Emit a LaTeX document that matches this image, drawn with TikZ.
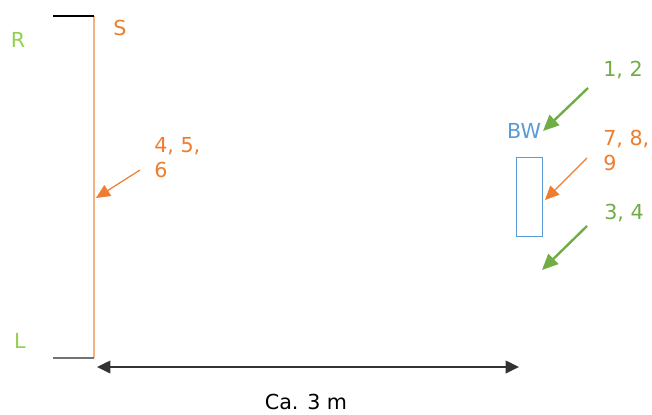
\documentclass[tikz,border=0pt]{standalone}
\usepackage{fontspec}
\setmainfont{DejaVu Sans}
\usetikzlibrary{arrows.meta,positioning}
\definecolor{SkOrange}{RGB}{237,125,49}
\definecolor{SkLightOrange}{RGB}{244,177,131}
\definecolor{SkGreen}{RGB}{112,173,71}
\definecolor{SkLime}{RGB}{146,208,80}
\definecolor{SkBlue}{RGB}{91,155,213}
\tikzset{
  sk/label/.style={font=\fontsize{15.5}{19}\selectfont, inner sep=0pt, align=left},
  sk/greenarrow/.style={-{Triangle[length=12pt,width=10.5pt]}, line width=1.8pt, draw=SkGreen, fill=SkGreen},
  sk/orangearrow/.style={-{Triangle[length=10.5pt,width=9.5pt]}, line width=0.9pt, draw=SkOrange, fill=SkOrange},
  sk/dimarrow/.style={{Triangle[length=10pt,width=9.5pt]}-{Triangle[length=10pt,width=9.5pt]}, line width=1.1pt, draw=black!80}
}
\begin{document}
\begin{tikzpicture}[x=0.75pt,y=-0.75pt]
  \useasboundingbox (0,0) rectangle (652,414);
  % wall with the speaker
  \coordinate (wallTop) at (94,16);
  \coordinate (wallBot) at (94,358);
  \coordinate (wallTopL) at (53,16);
  \coordinate (wallBotL) at (53,358);
  \draw[line width=0.9pt, SkLightOrange] (wallTop) -- (wallBot);
  \draw[line width=0.9pt, black] (wallTopL) -- (wallTop);
  \draw[line width=1pt, black!55] (wallBotL) -- (wallBot);
  \node[sk/label, text=SkLime] (right) at (18,40) {R};
  \node[sk/label, text=SkLime] (left) at (20,341) {L};
  \node[sk/label, text=SkOrange] (speaker) at (120,28) {S};
  % positions on the speaker side
  \node[sk/label, text=SkOrange, anchor=north west] (pos456) at (154,137) {4, 5,\\6};
  \coordinate (from456) at (140,170);
  \coordinate (to456) at (96,198);
  \draw[sk/orangearrow] (from456) -- (to456);
  % listening spot
  \node[sk/label, text=SkBlue] (bw) at (524,131) {BW};
  \node[draw=SkBlue, line width=0.7pt, minimum width=26*0.75pt, minimum height=79*0.75pt, inner sep=0pt] (seat) at (529,196.5) {};
  \node[sk/label, text=SkGreen] (pos12) at (623,70) {1, 2};
  \coordinate (from12) at (588,88);
  \coordinate (to12) at (543,131);
  \draw[sk/greenarrow] (from12) -- (to12);
  \node[sk/label, text=SkOrange, anchor=north west] (pos789) at (603,130) {7, 8,\\9};
  \coordinate (from789) at (587,158);
  \coordinate (to789) at (545,200);
  \draw[sk/orangearrow] (from789) -- (to789);
  \node[sk/label, text=SkGreen] (pos34) at (624,213) {3, 4};
  \coordinate (from34) at (587,226);
  \coordinate (to34) at (542,270);
  \draw[sk/greenarrow] (from34) -- (to34);
  % distance
  \coordinate (dimL) at (97,367);
  \coordinate (dimR) at (519,367);
  \draw[sk/dimarrow] (dimL) -- (dimR);
  \node[sk/label] (dist) at (306,402) {Ca. 3 m};
\end{tikzpicture}
\end{document}
